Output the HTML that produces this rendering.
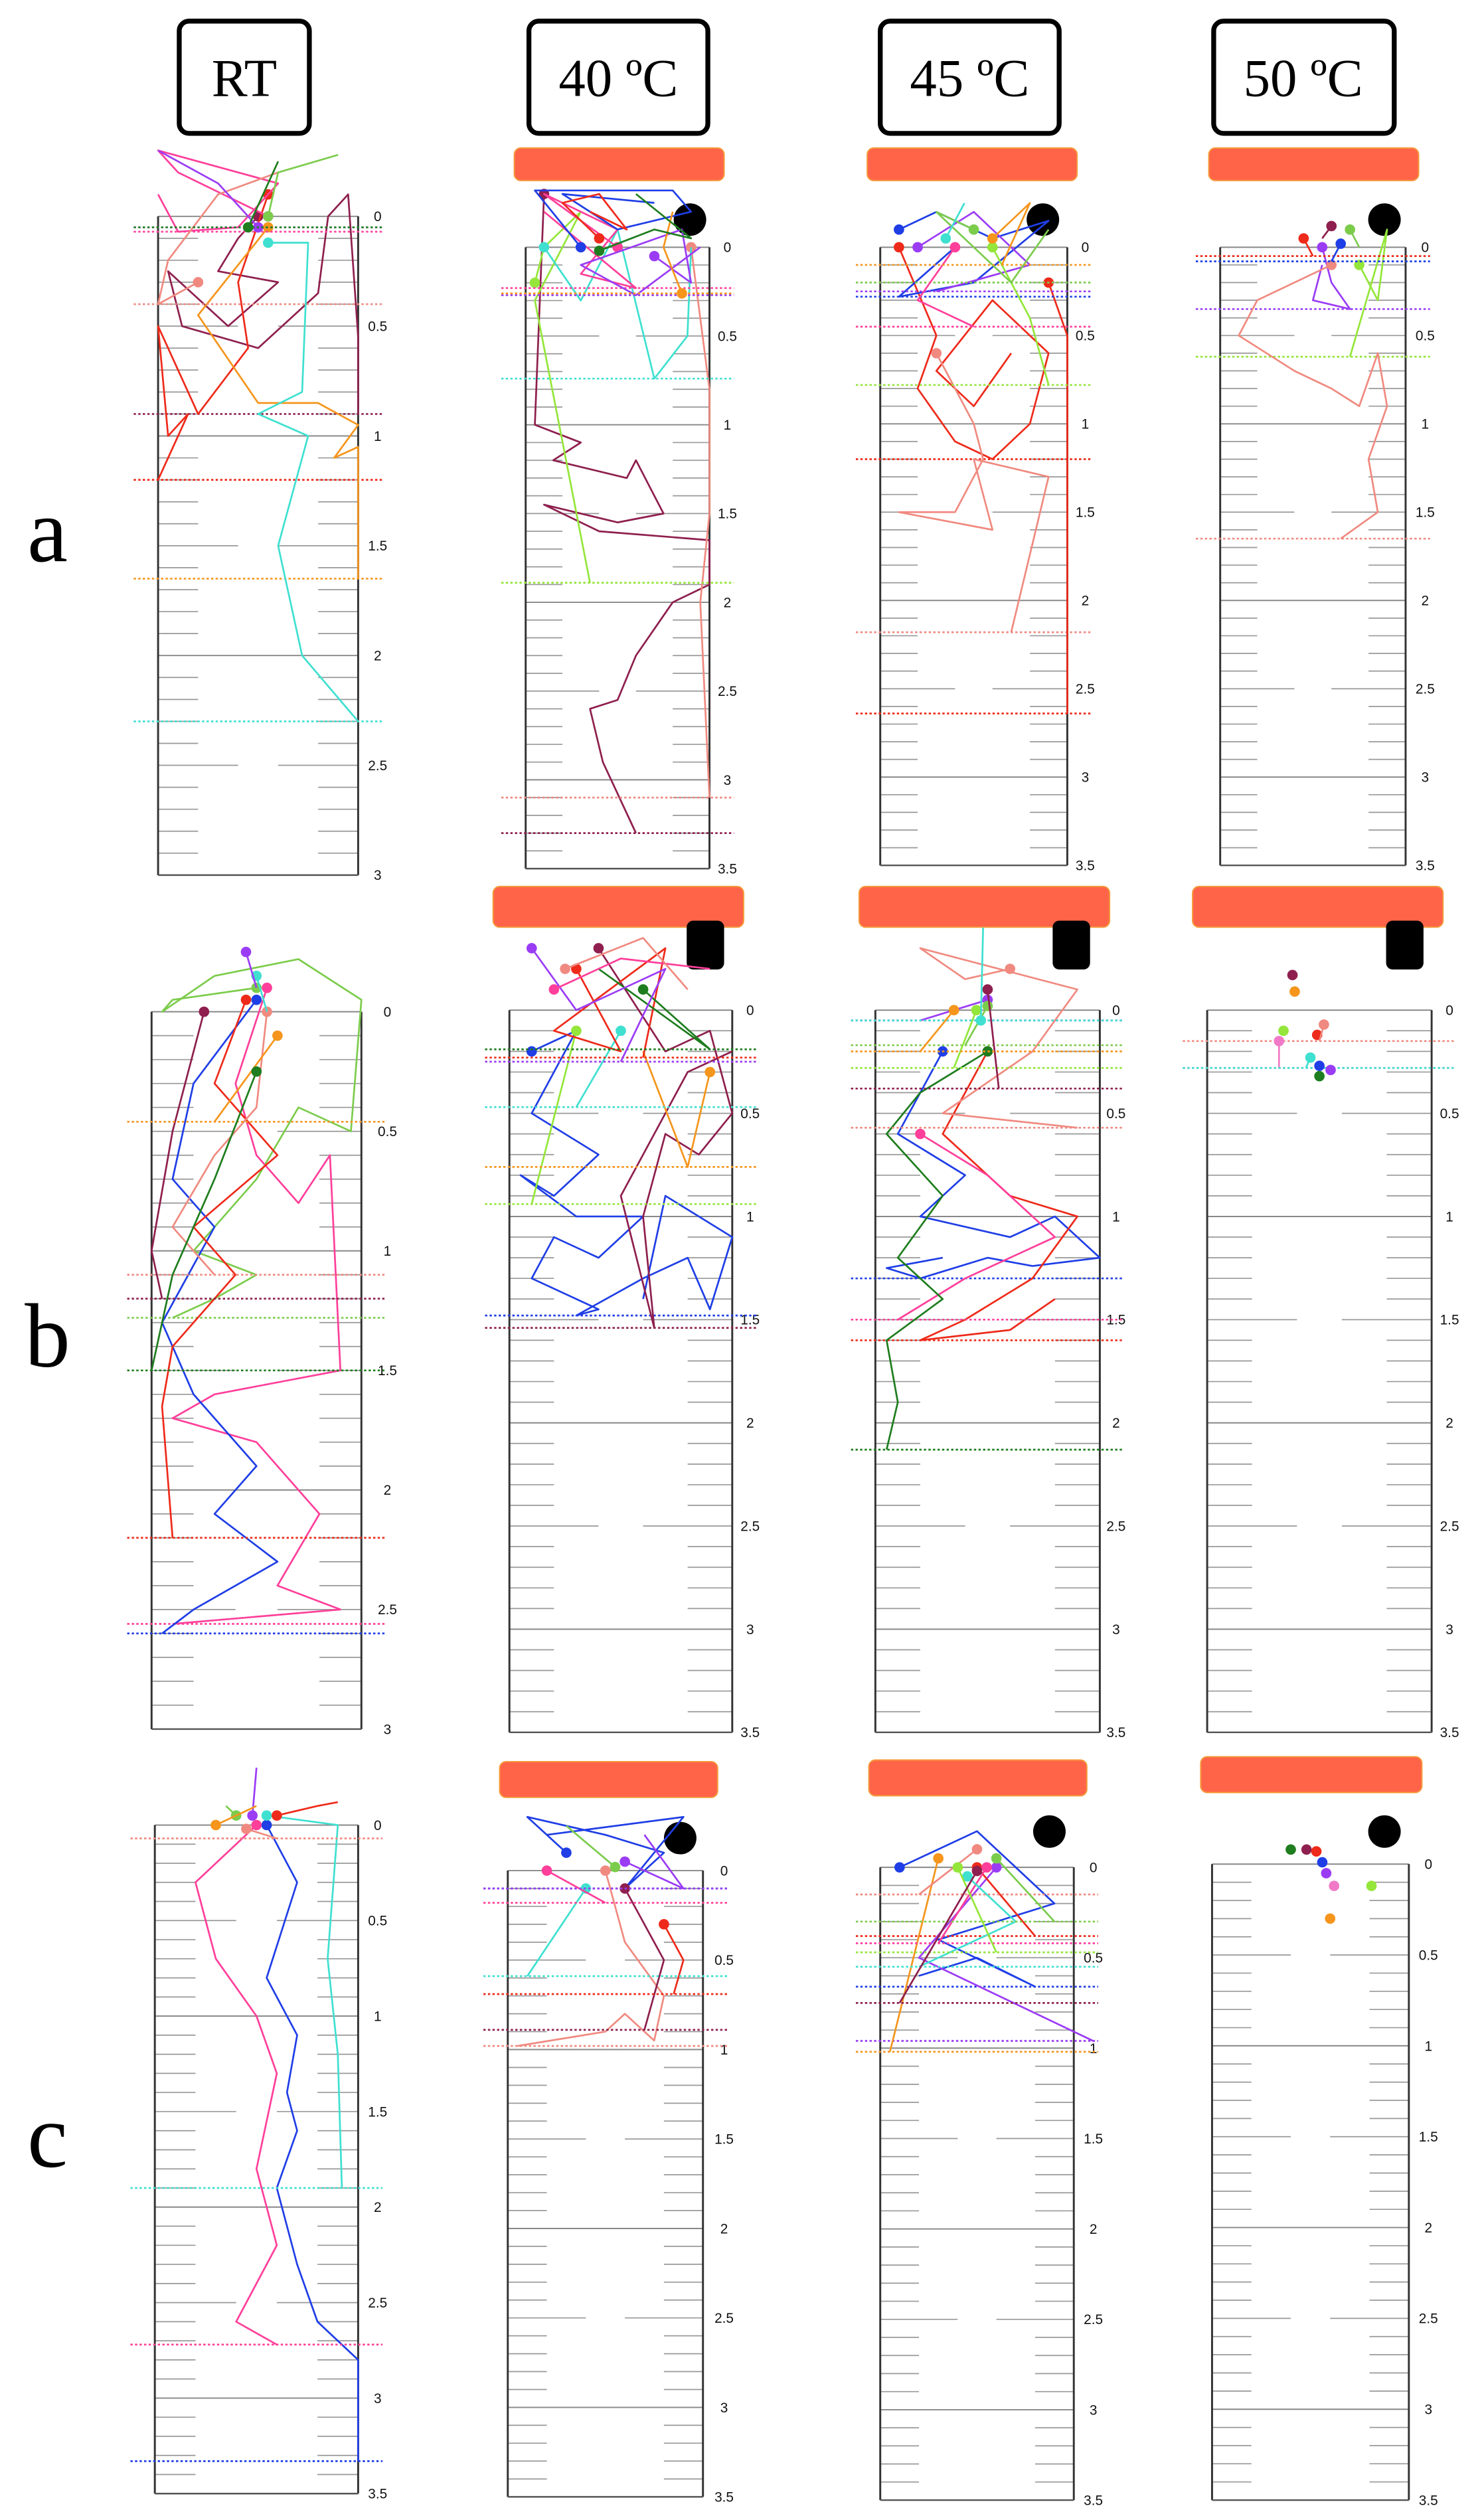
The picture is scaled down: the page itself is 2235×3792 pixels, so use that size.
<!DOCTYPE html>
<html><head><meta charset="utf-8">
<style>html,body{margin:0;padding:0;background:#fff}svg{display:block}</style>
</head><body>
<svg id="fig" xmlns="http://www.w3.org/2000/svg" width="2235" height="3792" viewBox="0 0 912 1548">
<g font-family="Liberation Serif, serif" font-size="33" text-anchor="middle">
 <g><rect x="110" y="13" width="80" height="69" rx="6" fill="#fff" stroke="#000" stroke-width="3"/><text x="150" y="59">RT</text></g>
 <g><rect x="325" y="13" width="110" height="69" rx="6" fill="#fff" stroke="#000" stroke-width="3"/><text x="380" y="59">40 ºC</text></g>
 <g><rect x="541" y="13" width="110" height="69" rx="6" fill="#fff" stroke="#000" stroke-width="3"/><text x="596" y="59">45 ºC</text></g>
 <g><rect x="746" y="13" width="111" height="69" rx="6" fill="#fff" stroke="#000" stroke-width="3"/><text x="801" y="59">50 ºC</text></g>
</g>
<g font-family="Liberation Serif, serif" font-size="56" text-anchor="middle">
 <text x="29" y="345">a</text>
 <text x="29" y="840">b</text>
 <text x="29" y="1332">c</text>
</g>
<g id="panels"></g>
</svg>
<script>
const NS='http://www.w3.org/2000/svg';
const COL={pink:'#ff3f9a',salmon:'#f08a80',red:'#ee2a1a',maroon:'#8e1f4e',orange:'#f5951c',cyan:'#3fe0d0',green:'#7ccc4c',dgreen:'#1e7d1e',blue:'#1f3ee6',purple:'#9b3cf5',lime:'#94e63a',lpink:'#f07ac8'};
// panel geometry
const panelNames=['a-rt','a-40c','a-45c','a-50c','b-rt','b-40c','b-45c','b-50c','c-rt','c-40c','c-45c','c-50c'];
const panelMax=[3,3.5,3.5,3.5,3,3.5,3.5,3.5,3.5,3.5,3.5,3.5];
// tracks: [color, [[xFraction, depth],...]]
const tracksARt=[
 ['maroon',[[0.5,0],[0.4,0.1],[0.3,0.25],[0.6,0.3],[0.35,0.5],[0.05,0.25],[0.12,0.5],[0.5,0.6],[0.8,0.35],[0.85,0],[0.95,-0.1],[1,0.55],[1,0.9]]],
 ['red',[[0.55,-0.1],[0.4,0.3],[0.45,0.6],[0.2,0.9],[0,0.5],[0.05,1.0],[0.15,0.9],[0,1.2]]],
 ['orange',[[0.55,0.05],[0.2,0.45],[0.5,0.85],[0.8,0.85],[1,0.95],[0.88,1.1],[1,1.05],[1,1.65]]],
 ['cyan',[[0.55,0.12],[0.75,0.12],[0.72,0.8],[0.5,0.9],[0.75,1.0],[0.6,1.5],[0.72,2.0],[1,2.3]]],
 ['pink',[[0.55,0],[0.1,-0.2],[0,-0.3],[0.6,-0.15],[0.4,0.05],[0.1,0.07],[0.0,-0.1]]],
 ['salmon',[[0.2,0.3],[0,0.4],[0.05,0.2],[0.3,-0.1],[0.6,-0.2]]],
 ['green',[[0.55,0],[0.6,-0.2],[0.9,-0.28]]],
 ['purple',[[0.5,0.05],[0.3,-0.15],[0,-0.3]]],
 ['dgreen',[[0.45,0.05],[0.6,-0.25]]]
];
const tracksA40=[
 ['maroon',[[0.1,-0.3],[0.05,1.0],[0.3,1.1],[0.15,1.2],[0.55,1.3],[0.6,1.2],[0.75,1.5],[0.5,1.55],[0.1,1.45],[0.4,1.6],[1,1.65],[1,1.9],[0.8,2.0],[0.6,2.3],[0.5,2.55],[0.35,2.6],[0.42,2.9],[0.6,3.3]]],
 ['salmon',[[0.9,0],[1,0.8],[1,1.5],[0.95,2],[1,3.1]]],
 ['lime',[[0.05,0.2],[0.1,0],[0.3,-0.2],[0.05,0.3],[0.35,1.89]]],
 ['cyan',[[0.1,0],[0.3,0.3],[0.5,-0.1],[0.7,0.74],[0.88,0.5],[0.9,0]]],
 ['pink',[[0.5,0],[0.1,-0.3],[0.5,-0.1],[0.3,0.15],[0.6,0.23],[0.1,-0.2]]],
 ['purple',[[0.7,0.05],[0.9,0.2],[0.85,-0.1],[0.3,0.1],[0.6,0.27],[0.95,0.0]]],
 ['blue',[[0.3,0],[0.05,-0.32],[0.8,-0.32],[0.9,-0.2],[0.5,-0.1],[0.2,-0.3],[0.7,-0.25]]],
 ['red',[[0.4,-0.05],[0.2,-0.25],[0.4,-0.3],[0.55,-0.1],[0.35,-0.2]]],
 ['orange',[[0.85,0.26],[0.75,0],[0.8,-0.2]]],
 ['dgreen',[[0.4,0.02],[0.7,-0.1],[0.9,-0.05],[0.6,-0.3]]]
];
const tracksA45=[
 ['red',[[0.1,0],[0.3,0.5],[0.2,0.8],[0.4,1.1],[0.6,1.2],[0.8,1.0],[0.9,0.6],[0.6,0.3],[0.3,0.7],[0.5,0.9],[0.7,0.6]]],
 ['salmon',[[0.3,0.6],[0.5,1.0],[0.55,1.2],[0.4,1.5],[0.1,1.5],[0.6,1.6],[0.5,1.2],[0.9,1.3],[0.7,2.18]]],
 ['red',[[0.9,0.2],[1,0.5],[1,2.64]]],
 ['blue',[[0.1,-0.1],[0.3,-0.2],[0.6,-0.05],[0.9,-0.15],[0.5,0.2],[0.1,0.28],[0.4,0.0]]],
 ['purple',[[0.2,0],[0.5,-0.2],[0.8,0.1],[0.3,0.25]]],
 ['lime',[[0.6,0],[0.8,0.4],[0.9,0.78]]],
 ['green',[[0.5,-0.1],[0.3,-0.2],[0.7,0.2],[0.9,-0.1]]],
 ['pink',[[0.4,0],[0.2,0.3],[0.5,0.45]]],
 ['orange',[[0.6,-0.05],[0.8,-0.25],[0.65,0.1]]],
 ['cyan',[[0.35,-0.05],[0.45,-0.25]]]
];
const tracksA50=[
 ['purple',[[0.55,0],[0.6,0.2],[0.7,0.35],[0.5,0.3],[0.55,0.1]]],
 ['lime',[[0.75,0.1],[0.85,0.3],[0.9,-0.1],[0.7,0.62]]],
 ['salmon',[[0.6,0.1],[0.2,0.3],[0.1,0.5],[0.4,0.7],[0.6,0.8],[0.75,0.9],[0.85,0.6],[0.9,0.9],[0.8,1.2],[0.85,1.5],[0.65,1.65]]],
 ['red',[[0.45,-0.05],[0.5,0.05]]],
 ['blue',[[0.65,-0.02],[0.6,0.08]]],
 ['maroon',[[0.6,-0.12],[0.55,-0.05]]],
 ['green',[[0.7,-0.1],[0.75,0]]]
];
const tracksBRt=[
 ['green',[[0.5,-0.1],[0.1,-0.05],[0.05,0],[0.3,-0.15],[0.7,-0.22],[1,-0.05],[0.95,0.5],[0.7,0.4],[0.5,0.7],[0.3,0.9],[0.2,1.0],[0.5,1.1],[0.3,1.2],[0.1,1.28]]],
 ['pink',[[0.55,-0.1],[0.4,0.3],[0.5,0.6],[0.7,0.8],[0.85,0.6],[0.9,1.5],[0.3,1.6],[0.1,1.7],[0.5,1.8],[0.8,2.1],[0.6,2.4],[0.9,2.5],[0.1,2.56]]],
 ['blue',[[0.5,-0.05],[0.2,0.3],[0.1,0.7],[0.3,0.9],[0.05,1.3],[0.2,1.6],[0.5,1.9],[0.3,2.1],[0.6,2.3],[0.2,2.5],[0.05,2.6]]],
 ['red',[[0.45,-0.05],[0.3,0.3],[0.6,0.6],[0.2,0.9],[0.4,1.1],[0.1,1.4],[0.05,1.65],[0.1,2.2]]],
 ['salmon',[[0.55,0],[0.5,0.4],[0.3,0.6],[0.1,0.9],[0.3,1.1]]],
 ['maroon',[[0.25,0.0],[0.1,0.5],[0.0,1.0],[0.05,1.2]]],
 ['orange',[[0.6,0.1],[0.3,0.46]]],
 ['cyan',[[0.5,-0.15],[0.55,0]]],
 ['purple',[[0.45,-0.25],[0.5,-0.1]]],
 ['dgreen',[[0.5,0.25],[0.3,0.7],[0.1,1.1],[0,1.5]]]
];
const tracksB40=[
 ['blue',[[0.1,0.2],[0.3,0.1],[0.1,0.5],[0.4,0.7],[0.2,0.9],[0.05,0.8],[0.3,1.0],[0.6,1.0],[0.4,1.2],[0.2,1.1],[0.1,1.3],[0.4,1.45],[0.3,1.48],[0.6,1.3],[0.8,1.2],[0.9,1.45],[1,1.1],[0.7,0.9],[0.6,1.4]]],
 ['maroon',[[0.4,-0.3],[0.7,0.2],[0.9,0.1],[1,0.5],[0.85,0.7],[0.7,0.6],[0.6,1.0],[0.65,1.54],[0.5,0.9],[0.8,0.3],[1,0.2]]],
 ['lime',[[0.3,0.1],[0.1,0.94]]],
 ['orange',[[0.9,0.3],[0.8,0.76],[0.6,0.2]]],
 ['cyan',[[0.5,0.1],[0.3,0.47]]],
 ['red',[[0.3,-0.2],[0.5,0.2],[0.2,0.1],[0.7,-0.3],[0.6,0.23]]],
 ['dgreen',[[0.6,-0.1],[0.9,0.19],[0.4,-0.2]]],
 ['purple',[[0.1,-0.3],[0.3,0],[0.7,-0.2],[0.5,0.25]]],
 ['pink',[[0.2,-0.1],[0.5,-0.25],[0.9,-0.2]]],
 ['salmon',[[0.25,-0.2],[0.6,-0.35],[0.8,-0.1]]]
];
const tracksB45=[
 ['blue',[[0.3,0.2],[0.1,0.6],[0.4,0.8],[0.2,1.0],[0.6,1.1],[0.8,1.0],[1,1.2],[0.7,1.24],[0.5,1.2],[0.2,1.3],[0.05,1.25],[0.3,1.2]]],
 ['red',[[0.5,0.2],[0.3,0.6],[0.6,0.9],[0.9,1.0],[0.7,1.3],[0.4,1.5],[0.2,1.6],[0.6,1.55],[0.8,1.4]]],
 ['pink',[[0.2,0.6],[0.5,0.8],[0.8,1.1],[0.4,1.3],[0.1,1.5]]],
 ['dgreen',[[0.5,0.2],[0.2,0.4],[0.05,0.6],[0.3,0.9],[0.1,1.2],[0.3,1.4],[0.05,1.6],[0.1,1.9],[0.05,2.13]]],
 ['salmon',[[0.6,-0.2],[0.4,-0.15],[0.2,-0.3],[0.9,-0.1],[0.7,0.2],[0.3,0.5],[0.9,0.57]]],
 ['purple',[[0.5,-0.05],[0.2,0.05]]],
 ['green',[[0.5,-0.02],[0.4,0.17]]],
 ['lime',[[0.45,0],[0.35,0.28]]],
 ['maroon',[[0.5,-0.1],[0.55,0.38]]],
 ['cyan',[[0.47,0.05],[0.48,-0.4]]],
 ['orange',[[0.35,0],[0.2,0.2]]]
];
const tracksB50=[
 ['maroon',[[0.38,-0.17]]],['orange',[[0.39,-0.09]]],['lime',[[0.34,0.1]]],['red',[[0.49,0.12]]],
 ['salmon',[[0.52,0.07],[0.5,0.15]]],['lpink',[[0.32,0.15],[0.32,0.28]]],['cyan',[[0.46,0.23],[0.44,0.28]]],
 ['blue',[[0.5,0.27]]],['purple',[[0.55,0.29]]],['dgreen',[[0.5,0.32]]]
];
const tracksCRt=[
 ['blue',[[0.55,0.0],[0.7,0.3],[0.55,0.8],[0.7,1.1],[0.65,1.4],[0.7,1.6],[0.6,1.9],[0.7,2.3],[0.8,2.6],[1,2.8],[1,3.33]]],
 ['pink',[[0.5,0],[0.2,0.3],[0.3,0.7],[0.5,1.0],[0.6,1.3],[0.5,1.8],[0.6,2.2],[0.4,2.6],[0.6,2.72]]],
 ['cyan',[[0.55,-0.05],[0.9,0],[0.85,0.7],[0.9,1.2],[0.92,1.9]]],
 ['red',[[0.6,-0.05],[0.8,-0.1],[0.9,-0.12]]],
 ['purple',[[0.48,-0.05],[0.5,-0.3]]],
 ['green',[[0.4,-0.05],[0.35,-0.1]]],
 ['orange',[[0.3,0],[0.5,-0.1]]],
 ['salmon',[[0.45,0.02],[0.6,0.07]]]
];
const tracksC40=[
 ['blue',[[0.3,-0.1],[0.1,-0.3],[0.5,-0.2],[0.8,-0.1],[0.6,0.1],[0.9,-0.3],[0.2,-0.2]]],
 ['salmon',[[0.5,0.0],[0.6,0.4],[0.8,0.7],[0.75,0.95],[0.6,0.8],[0.5,0.9],[0.05,0.98]]],
 ['maroon',[[0.6,0.1],[0.8,0.5],[0.7,0.89]]],
 ['red',[[0.8,0.3],[0.9,0.5],[0.85,0.69]]],
 ['cyan',[[0.4,0.1],[0.1,0.59]]],
 ['pink',[[0.2,0.0],[0.5,0.18]]],
 ['purple',[[0.6,-0.05],[0.9,0.1],[0.7,-0.2]]],
 ['green',[[0.55,-0.02],[0.3,-0.25]]]
];
const tracksC45=[
 ['blue',[[0.1,0],[0.5,-0.2],[0.9,0.2],[0.3,0.4],[0.8,0.66],[0.5,0.5],[0.2,0.6]]],
 ['purple',[[0.6,0],[0.2,0.5],[1.1,0.96]]],
 ['orange',[[0.3,-0.05],[0.05,1.02]]],
 ['red',[[0.5,0],[0.8,0.38]]],
 ['pink',[[0.55,0],[0.3,0.42]]],
 ['salmon',[[0.5,-0.1],[0.2,0.15]]],
 ['cyan',[[0.45,0.05],[0.7,0.3],[0.2,0.55]]],
 ['green',[[0.6,-0.05],[0.9,0.3]]],
 ['lime',[[0.4,0],[0.6,0.47]]],
 ['maroon',[[0.5,0.02],[0.1,0.75]]]
];
const tracksC50=[
 ['dgreen',[[0.4,-0.08]]],['maroon',[[0.48,-0.08]]],['red',[[0.53,-0.07]]],['blue',[[0.56,-0.01]]],
 ['purple',[[0.58,0.05]]],['lpink',[[0.62,0.12]]],['lime',[[0.81,0.12]]],['orange',[[0.6,0.3]]]
];
const allTracks=[tracksARt,tracksA40,tracksA45,tracksA50,tracksBRt,tracksB40,tracksB45,tracksB50,tracksCRt,tracksC40,tracksC45,tracksC50];
// layout
const GEO=[
 {l:97,r:220,y0:133,y1:538,lx:232,bar:null,obj:null},
 {l:323,r:436,y0:152,y1:534,lx:447,bar:[316,91,445,111],obj:['c',424,135]},
 {l:541,r:656,y0:152,y1:532,lx:667,bar:[533,91,662,111],obj:['c',641,135]},
 {l:750,r:864,y0:152,y1:532,lx:876,bar:[743,91,872,111],obj:['c',851,135]},
 {l:93,r:222,y0:622,y1:1063,lx:238,bar:null,obj:null},
 {l:313,r:450,y0:621,y1:1065,lx:461,bar:[303,545,457,570],obj:['r',422,570]},
 {l:538,r:676,y0:621,y1:1065,lx:686,bar:[528,545,682,570],obj:['r',647,570]},
 {l:742,r:880,y0:621,y1:1065,lx:891,bar:[733,545,887,570],obj:['r',852,570]},
 {l:95,r:220,y0:1122,y1:1533,lx:232,bar:null,obj:null},
 {l:312,r:432,y0:1150,y1:1535,lx:445,bar:[307,1083,441,1105],obj:['c',418,1130]},
 {l:541,r:660,y0:1148,y1:1537,lx:672,bar:[534,1082,668,1104],obj:['c',645,1126]},
 {l:745,r:866,y0:1146,y1:1537,lx:878,bar:[738,1080,874,1102],obj:['c',851,1126]}
];
const root=document.getElementById('panels');
function mk(tag,attrs,parent){const e=document.createElementNS(NS,tag);for(const k in attrs)e.setAttribute(k,attrs[k]);parent.appendChild(e);return e;}
GEO.forEach((g,i)=>{
 const max=panelMax[i];
 const unit=(g.y1-g.y0)/max, w=g.r-g.l;
 const yS=d=>g.y0+d*unit, xS=f=>g.l+f*w;
 const grp=mk('g',{},root);
 
 
 if(g.bar){const b=mk('rect',{x:g.bar[0],y:g.bar[1],width:g.bar[2]-g.bar[0],height:g.bar[3]-g.bar[1],rx:4,fill:'#ff6449',stroke:'#f59a3a','stroke-width':0.8},grp);
  }
 if(g.obj){let o;
  if(g.obj[0]==='c')o=mk('circle',{cx:g.obj[1],cy:g.obj[2],r:10,fill:'#000'},grp);
  else o=mk('rect',{x:g.obj[1],y:g.obj[2]-4,width:23,height:30,rx:4,fill:'#000'},grp);
  }
 // ticks
 const nT=Math.round(max*10);
 for(let k=0;k<=nT;k++){const y=yS(k/10);
  if(k%10===0){mk('line',{x1:g.l,x2:g.r,y1:y,y2:y,stroke:'#888','stroke-width':0.8},grp);}
  else if(k%5===0){mk('line',{x1:g.l,x2:g.l+0.4*w,y1:y,y2:y,stroke:'#999','stroke-width':0.7},grp);mk('line',{x1:g.r-0.4*w,x2:g.r,y1:y,y2:y,stroke:'#999','stroke-width':0.7},grp);}
  else{mk('line',{x1:g.l,x2:g.l+0.2*w,y1:y,y2:y,stroke:'#999','stroke-width':0.7},grp);mk('line',{x1:g.r-0.2*w,x2:g.r,y1:y,y2:y,stroke:'#999','stroke-width':0.7},grp);}
 }
 mk('line',{x1:g.l,x2:g.l,y1:g.y0,y2:g.y1,stroke:'#333','stroke-width':1.2},grp);
 mk('line',{x1:g.r,x2:g.r,y1:g.y0,y2:g.y1,stroke:'#333','stroke-width':1.2},grp);
 mk('line',{x1:g.l,x2:g.r,y1:g.y1,y2:g.y1,stroke:'#555','stroke-width':1},grp);
 for(let v=0;v<=max+1e-6;v+=0.5){
  const t=mk('text',{x:g.lx,y:yS(v)+3,'font-family':'Liberation Sans, sans-serif','font-size':8.5,'text-anchor':'middle',fill:'#111'},grp);
  t.textContent=String(v);
  
  
 }
 allTracks[i].forEach(tr=>{
  const c=COL[tr[0]], pts=tr[1];
  if(pts.length>1){
   const pl=mk('polyline',{points:pts.map(p=>xS(p[0])+','+yS(p[1])).join(' '),fill:'none',stroke:c,'stroke-width':1.1,'stroke-linejoin':'round'},grp);
   
   
   const md=Math.max(...pts.map(p=>p[1]));
   if(md>0.02){
    const dl=mk('line',{x1:g.l-15,x2:g.r+15,y1:yS(md),y2:yS(md),stroke:c,'stroke-width':1.1,'stroke-dasharray':'1.4 1.4'},grp);
    
    
   }
  }
  const d=mk('circle',{cx:xS(pts[0][0]),cy:yS(pts[0][1]),r:3.2,fill:c},grp);
  
  
 });
});
</script>
</body></html>
